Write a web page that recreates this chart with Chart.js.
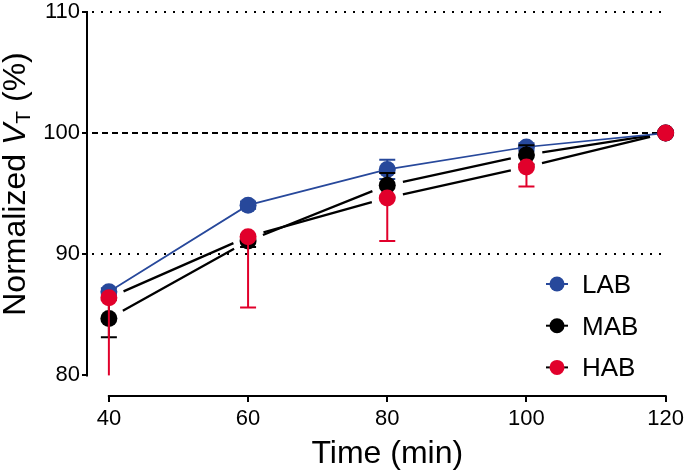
<!DOCTYPE html>
<html><head><meta charset="utf-8">
<style>html,body{margin:0;padding:0;background:#fff;}#wrap{width:688px;height:472px;position:relative;}</style>
<script src="https://cdn.jsdelivr.net/npm/chart.js@4/dist/chart.umd.min.js"></script>
</head><body><div id="wrap"><canvas id="c" width="688" height="472"></canvas></div>
<script>
// ---- data ----
const times = [40, 60, 80, 100, 120];
const xTicks = [40, 60, 80, 100, 120];
const yTicks = [80, 90, 100, 110];
const refValues = [110, 100, 90];
const seriesNames = ['LAB', 'MAB', 'HAB'];
const lab = [86.9, 94.05, 97.0, 98.85, 100];
const mab = [84.7, 91.1, 95.7, 98.2, 100];
const hab = [86.4, 91.45, 94.65, 97.2, 100];
const labErr = [0.3, 0.3, 0.8, 0.3, 0];
const mabErr = [1.55, 0.5, 1.0, 0.8, 0];
const habErr = [7.0, 5.85, 3.55, 1.6, 0];
const xTitle = 'Time (min)';
const yTitleParts = ['Normalized ', 'V', 'T', ' (%)'];

// ---- styles ----
const BLUE = '#27489b', RED = '#e1002b', BLACK = '#000000';
const FAM = '"Liberation Sans", Arial, Helvetica, sans-serif';
const pts = (arr) => times.map((t, i) => ({x: t, y: arr[i]}));

const datasets = [
  {label: seriesNames[0], data: pts(lab), err: labErr, errMode: 'both', color: BLUE, legendLine: BLUE,
   borderColor: BLUE, backgroundColor: BLUE, pointBackgroundColor: BLUE, pointBorderWidth: 0,
   pointRadius: 8.5, pointHoverRadius: 8.5, showLine: true, borderWidth: 1.7, order: 3, clip: false},
  {label: seriesNames[1], data: pts(mab), err: mabErr, errMode: 'both', color: BLACK, legendLine: BLACK, trim: 16,
   borderColor: BLACK, backgroundColor: BLACK, pointBackgroundColor: BLACK, pointBorderWidth: 0,
   pointRadius: 8.5, pointHoverRadius: 8.5, showLine: false, order: 2, clip: false},
  {label: seriesNames[2], data: pts(hab), err: habErr, errMode: 'down', color: RED, legendLine: BLACK, trim: 16,
   borderColor: RED, backgroundColor: RED, pointBackgroundColor: RED, pointBorderWidth: 0,
   pointRadius: 8.5, pointHoverRadius: 8.5, showLine: false, order: 1, clip: false}
];

const decor = {
  id: 'decor',
  beforeDatasetsDraw(chart) {
    const {ctx, chartArea: ca, scales: {x, y}} = chart;
    ctx.save();
    // reference lines
    refValues.forEach(v => {
      const py = Math.round(y.getPixelForValue(v));
      ctx.beginPath();
      ctx.lineWidth = 2;
      ctx.strokeStyle = '#000';
      ctx.setLineDash(v === 100 ? [6, 4] : [2, 7]);
      ctx.moveTo(ca.left + 4, py);
      ctx.lineTo(x.getPixelForValue(120) - 3, py);
      ctx.stroke();
    });
    ctx.setLineDash([]);
    // axis lines
    ctx.lineWidth = 2;
    ctx.strokeStyle = '#000';
    ctx.beginPath();
    ctx.moveTo(ca.left - 1, y.getPixelForValue(110) - 1);
    ctx.lineTo(ca.left - 1, y.getPixelForValue(80) + 1);
    ctx.stroke();
    ctx.beginPath();
    ctx.moveTo(x.getPixelForValue(40) - 1, ca.bottom);
    ctx.lineTo(x.getPixelForValue(120) + 1, ca.bottom);
    ctx.stroke();
    // trimmed connecting lines
    chart.data.datasets.forEach((ds, di) => {
      if (!ds.trim) return;
      const meta = chart.getDatasetMeta(di);
      ctx.beginPath();
      ctx.lineWidth = 2.3;
      ctx.strokeStyle = ds.legendLine;
      for (let i = 0; i < meta.data.length - 1; i++) {
        const a = meta.data[i], b = meta.data[i + 1];
        const dx = b.x - a.x, dy = b.y - a.y, L = Math.hypot(dx, dy);
        const ux = dx / L, uy = dy / L;
        ctx.moveTo(a.x + ux * ds.trim, a.y + uy * ds.trim);
        ctx.lineTo(b.x - ux * ds.trim, b.y - uy * ds.trim);
      }
      ctx.stroke();
    });
    ctx.restore();
  },
  beforeDatasetDraw(chart, args) {
    const ds = chart.data.datasets[args.index];
    const {ctx, scales: {y}} = chart;
    const meta = args.meta;
    ctx.save();
    ctx.strokeStyle = ds.color;
    ctx.lineWidth = 2;
    ds.data.forEach((p, i) => {
      const e = ds.err[i];
      if (!e) return;
      const px = meta.data[i].x;
      const ends = ds.errMode === 'both' ? [p.y + e, p.y - e] : [p.y - e];
      ends.forEach(v => {
        const clipped = v < 80;
        const vv = clipped ? 80 : v;
        const py = y.getPixelForValue(vv);
        ctx.beginPath();
        ctx.moveTo(px, meta.data[i].y);
        ctx.lineTo(px, py);
        if (!clipped) { ctx.moveTo(px - 8, py); ctx.lineTo(px + 8, py); }
        ctx.stroke();
      });
    });
    ctx.restore();
  },
  afterDraw(chart) {
    const {ctx, chartArea: ca, scales: {x, y}} = chart;
    ctx.save();
    ctx.fillStyle = '#000';
    // x title
    ctx.font = '32px ' + FAM;
    ctx.textAlign = 'center';
    ctx.textBaseline = 'alphabetic';
    ctx.fillText(xTitle, (x.getPixelForValue(40) + x.getPixelForValue(120)) / 2, 463);
    // y title (rotated, mixed style)
    ctx.save();
    ctx.translate(25, 184);
    ctx.rotate(-Math.PI / 2);
    ctx.textAlign = 'left';
    const fN = '32px ' + FAM, fI = 'italic 32px ' + FAM, fS = '21px ' + FAM;
    const parts = [
      {t: yTitleParts[0], f: fN, dy: 0},
      {t: yTitleParts[1], f: fI, dy: 0},
      {t: yTitleParts[2], f: fS, dy: 5},
      {t: yTitleParts[3], f: fN, dy: 0}
    ];
    let total = 0;
    parts.forEach(p => { ctx.font = p.f; p.w = ctx.measureText(p.t).width; total += p.w; });
    let cx = -total / 2;
    parts.forEach(p => { ctx.font = p.f; ctx.fillText(p.t, cx, p.dy); cx += p.w; });
    ctx.restore();
    // legend
    chart.data.datasets.forEach((ds, i) => {
      const ly = 284 + i * 41.7, lx = 557;
      ctx.beginPath();
      ctx.strokeStyle = ds.legendLine;
      ctx.lineWidth = 2;
      ctx.moveTo(lx - 11, ly); ctx.lineTo(lx + 11, ly);
      ctx.stroke();
      ctx.beginPath();
      ctx.fillStyle = ds.color;
      ctx.arc(lx, ly, 7.5, 0, Math.PI * 2);
      ctx.fill();
      ctx.fillStyle = '#000';
      ctx.font = '26px ' + FAM;
      ctx.textAlign = 'left';
      ctx.textBaseline = 'alphabetic';
      ctx.fillText(ds.label, 582, ly + 9);
    });
    ctx.restore();
  }
};

new Chart(document.getElementById('c'), {
  type: 'scatter',
  data: {datasets},
  options: {
    responsive: false,
    animation: false,
    events: [],
    layout: {padding: {top: 10, right: 20, left: 0, bottom: 0}},
    plugins: {legend: {display: false}, tooltip: {enabled: false}, title: {display: false}},
    scales: {
      x: {
        type: 'linear', min: 37, max: 120,
        afterBuildTicks: s => { s.ticks = xTicks.map(v => ({value: v})); },
        afterFit: s => { s.height = 76; },
        border: {display: false},
        grid: {drawOnChartArea: false, drawTicks: true, tickLength: 6, tickWidth: 2, tickColor: '#000', lineWidth: 2, color: '#000'},
        ticks: {font: {family: FAM, size: 22}, color: '#000', padding: 4, maxRotation: 0, autoSkip: false}
      },
      y: {
        type: 'linear', min: 78.3, max: 110,
        afterBuildTicks: s => { s.ticks = yTicks.map(v => ({value: v})); },
        afterFit: s => { s.width = 88; },
        border: {display: false},
        grid: {drawOnChartArea: false, drawTicks: true, tickLength: 6, tickWidth: 2, tickColor: '#000', lineWidth: 2, color: '#000'},
        ticks: {font: {family: FAM, size: 22, lineHeight: 0.9}, color: '#000', padding: 2, autoSkip: false}
      }
    }
  },
  plugins: [decor]
});
</script>
</body></html>
